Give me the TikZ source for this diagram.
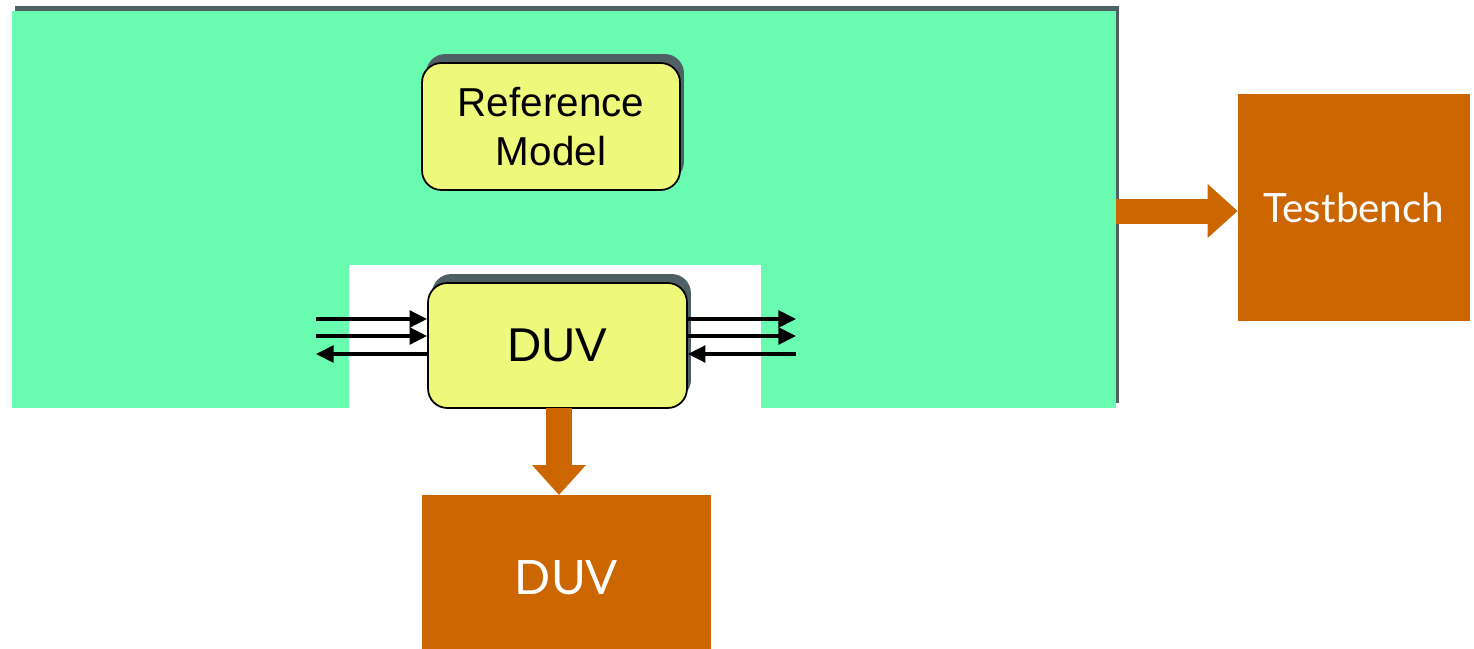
\documentclass[tikz,border=0pt]{standalone}
\usepackage{fontspec}
\setmainfont{Liberation Sans}
\newfontfamily\handfont{Lato}
\usetikzlibrary{arrows.meta,shadows}
\definecolor{panelgreen}{HTML}{69FBB0}
\definecolor{shadowgray}{HTML}{4F6064}
\definecolor{boxyellow}{HTML}{EEF87A}
\definecolor{tborange}{HTML}{CC6600}
\tikzset{
  modelbox/.style={draw, line width=1pt, rounded corners=11pt, fill=boxyellow, inner sep=0pt, align=center,
    drop shadow={shadow xshift=0.08cm, shadow yshift=0.18cm, fill=shadowgray, opacity=1}},
  tbbox/.style={fill=tborange, text=white, inner sep=0pt, font=\handfont},
  sig/.style={line width=2pt, -{Triangle[length=10pt,width=9.5pt]}},
  flow/.style={draw=tborange, -{Triangle[length=0.6cm,width=1.04cm]}}
}
\begin{document}
\begin{tikzpicture}[x=0.02cm,y=-0.02cm]
\useasboundingbox (0,0) rectangle (1474,649);
\node[fill=panelgreen, inner sep=0pt, minimum width=22.08cm, minimum height=7.94cm, anchor=north west,
  drop shadow={shadow xshift=0.06cm, shadow yshift=0.1cm, fill=shadowgray, opacity=1}] (panel) at (12,11) {};
\fill[white] (349,265) rectangle (761,408);

\node[modelbox, minimum width=5.16cm, minimum height=2.54cm, font=\fontsize{23}{28}\selectfont] (refmodel) at (551,126.5) {Reference\\Model};
\node[modelbox, minimum width=5.18cm, minimum height=2.5cm, font=\fontsize{27}{32}\selectfont] (duv) at (557.5,345.5) {DUV};

\node[tbbox, minimum width=4.64cm, minimum height=4.54cm, font=\handfont\fontsize{23}{27}\selectfont] (tb) at (1354,207.5) {\raisebox{-2.8pt}{Testbench}};
\node[tbbox, minimum width=5.78cm, minimum height=3.32cm, font=\handfont\fontsize{27}{32}\selectfont] (duvtb) at (566.5,578) {DUV};

% pins of the DUV
\coordinate (in1) at (316,319);
\coordinate (in2) at (316,336);
\coordinate (in3) at (316,354);
\coordinate (out1) at (796,319);
\coordinate (out2) at (796,336);
\coordinate (out3) at (796,354);
\draw[sig] (in1) -- (duv.west |- in1);
\draw[sig] (in2) -- (duv.west |- in2);
\draw[sig] (duv.west |- in3) -- (in3);
\draw[sig] (duv.east |- out1) -- (out1);
\draw[sig] (duv.east |- out2) -- (out2);
\draw[sig] (out3) -- (duv.east |- out3);

\draw[flow, line width=0.5cm] (panel.east |- 0,211) -- (tb.west |- 0,211);
\draw[flow, line width=0.52cm] (559,408) -- (559,495);
\end{tikzpicture}
\end{document}
